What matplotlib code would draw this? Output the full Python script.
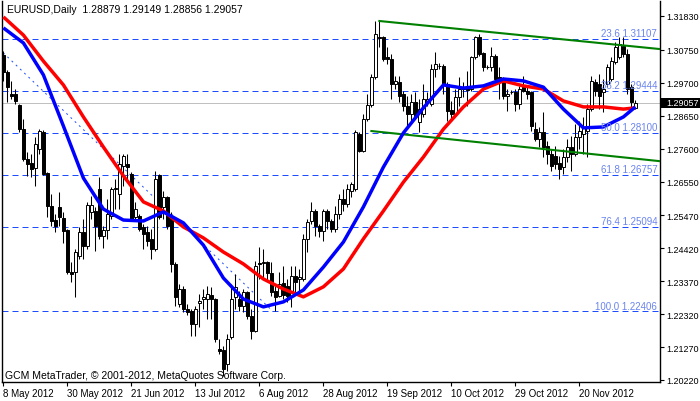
import matplotlib
matplotlib.use("Agg")
import matplotlib.pyplot as plt
from matplotlib.patches import Rectangle
import numpy as np

# EURUSD daily bars, 8 May 2012 .. 10 Dec 2012
opens = [1.3059, 1.3004, 1.2934, 1.2934, 1.2899, 1.2822, 1.2727, 1.2714, 1.2698, 1.2759,
         1.2813, 1.2682, 1.2577, 1.2532, 1.2574, 1.2539, 1.2500, 1.2366, 1.2366, 1.2417,
         1.2494, 1.2449, 1.2558, 1.2561, 1.2631, 1.2481, 1.2500, 1.2545, 1.2631, 1.2615,
         1.2704, 1.2711, 1.2679, 1.2542, 1.2545, 1.2510, 1.2494, 1.2472, 1.2440, 1.2676,
         1.2574, 1.2606, 1.2545, 1.2392, 1.2264, 1.2312, 1.2248, 1.2242, 1.2201, 1.2267,
         1.2280, 1.2280, 1.2293, 1.2280, 1.2121, 1.2117, 1.2073, 1.2159, 1.2287, 1.2280,
         1.2258, 1.2303, 1.2226, 1.2178, 1.2395, 1.2395, 1.2398, 1.2363, 1.2306, 1.2290,
         1.2331, 1.2322, 1.2290, 1.2354, 1.2344, 1.2344, 1.2472, 1.2529, 1.2561, 1.2513,
         1.2497, 1.2561, 1.2529, 1.2504, 1.2551, 1.2599, 1.2583, 1.2625, 1.2631, 1.2807,
         1.2752, 1.2854, 1.2899, 1.2988, 1.3116, 1.3116, 1.3052, 1.3046, 1.2966, 1.2972,
         1.2934, 1.2896, 1.2870, 1.2909, 1.2845, 1.2870, 1.2912, 1.2902, 1.3014, 1.3023,
         1.3023, 1.2966, 1.2883, 1.2870, 1.2925, 1.2956, 1.2956, 1.2950, 1.3052, 1.3116,
         1.3065, 1.3020, 1.3020, 1.3055, 1.2988, 1.2972, 1.2928, 1.2941, 1.2941, 1.2902,
         1.2956, 1.2944, 1.2941, 1.2822, 1.2791, 1.2813, 1.2768, 1.2743, 1.2736, 1.2714,
         1.2701, 1.2733, 1.2765, 1.2743, 1.2797, 1.2807, 1.2816, 1.2886, 1.2972, 1.2966,
         1.2941, 1.2966, 1.2982, 1.3036, 1.3052, 1.3087, 1.3062, 1.2956, 1.28879]
highs = [1.3071, 1.3011, 1.2976, 1.2950, 1.2902, 1.2854, 1.2749, 1.2743, 1.2797, 1.2822,
         1.2819, 1.2685, 1.2615, 1.2551, 1.2622, 1.2558, 1.2504, 1.2398, 1.2440, 1.2510,
         1.2535, 1.2590, 1.2609, 1.2574, 1.2669, 1.2513, 1.2599, 1.2637, 1.2663, 1.2743,
         1.2743, 1.2743, 1.2685, 1.2590, 1.2551, 1.2519, 1.2513, 1.2504, 1.2688, 1.2679,
         1.2625, 1.2609, 1.2558, 1.2398, 1.2328, 1.2322, 1.2264, 1.2248, 1.2258, 1.2296,
         1.2312, 1.2322, 1.2319, 1.2284, 1.2153, 1.2130, 1.2168, 1.2328, 1.2360, 1.2306,
         1.2312, 1.2306, 1.2248, 1.2401, 1.2446, 1.2440, 1.2401, 1.2398, 1.2322, 1.2366,
         1.2385, 1.2344, 1.2385, 1.2385, 1.2376, 1.2488, 1.2535, 1.2590, 1.2567, 1.2519,
         1.2567, 1.2567, 1.2535, 1.2577, 1.2615, 1.2631, 1.2647, 1.2653, 1.2819, 1.2813,
         1.2870, 1.2934, 1.2998, 1.3167, 1.3167, 1.3119, 1.3084, 1.3062, 1.2992, 1.2992,
         1.2944, 1.2928, 1.2934, 1.2941, 1.2918, 1.2966, 1.2941, 1.3030, 1.3068, 1.3033,
         1.3030, 1.2972, 1.2912, 1.2950, 1.2988, 1.2972, 1.3008, 1.3055, 1.3119, 1.3126,
         1.3068, 1.3027, 1.3084, 1.3062, 1.3020, 1.2988, 1.2950, 1.2947, 1.2950, 1.2960,
         1.2992, 1.2960, 1.2944, 1.2845, 1.2829, 1.2877, 1.2784, 1.2759, 1.2768, 1.2736,
         1.2759, 1.2791, 1.2800, 1.2838, 1.2848, 1.2861, 1.2902, 1.2992, 1.2982, 1.2998,
         1.2982, 1.3030, 1.3052, 1.3100, 1.3116, 1.3116, 1.3078, 1.2966, 1.29149]
lows = [1.2976, 1.2909, 1.2918, 1.2902, 1.2813, 1.2720, 1.2673, 1.2669, 1.2641, 1.2743,
        1.2676, 1.2542, 1.2513, 1.2494, 1.2513, 1.2459, 1.2360, 1.2334, 1.2287, 1.2408,
        1.2408, 1.2440, 1.2535, 1.2433, 1.2472, 1.2443, 1.2472, 1.2535, 1.2567, 1.2567,
        1.2641, 1.2663, 1.2529, 1.2529, 1.2497, 1.2440, 1.2449, 1.2408, 1.2433, 1.2535,
        1.2535, 1.2504, 1.2366, 1.2258, 1.2255, 1.2239, 1.2229, 1.2162, 1.2162, 1.2191,
        1.2248, 1.2216, 1.2216, 1.2143, 1.2105, 1.2035, 1.2051, 1.2153, 1.2248, 1.2242,
        1.2239, 1.2216, 1.2153, 1.2175, 1.2344, 1.2344, 1.2338, 1.2290, 1.2242, 1.2287,
        1.2280, 1.2271, 1.2255, 1.2303, 1.2290, 1.2338, 1.2430, 1.2519, 1.2481, 1.2478,
        1.2465, 1.2504, 1.2494, 1.2494, 1.2535, 1.2561, 1.2574, 1.2606, 1.2625, 1.2749,
        1.2749, 1.2848, 1.2893, 1.2982, 1.3084, 1.3039, 1.3030, 1.2918, 1.2950, 1.2909,
        1.2880, 1.2829, 1.2838, 1.2858, 1.2813, 1.2861, 1.2896, 1.2896, 1.2988, 1.3014,
        1.2934, 1.2848, 1.2848, 1.2864, 1.2896, 1.2925, 1.2896, 1.2944, 1.3046, 1.3055,
        1.3008, 1.3014, 1.3008, 1.2972, 1.2918, 1.2918, 1.2880, 1.2934, 1.2880, 1.2886,
        1.2941, 1.2918, 1.2816, 1.2784, 1.2765, 1.2733, 1.2711, 1.2688, 1.2695, 1.2663,
        1.2679, 1.2717, 1.2688, 1.2736, 1.2759, 1.2743, 1.2733, 1.2880, 1.2928, 1.2886,
        1.2877, 1.2956, 1.2976, 1.3030, 1.3046, 1.3052, 1.2934, 1.2893, 1.28856]
closes = [1.3004, 1.2956, 1.2928, 1.2912, 1.2822, 1.2727, 1.2711, 1.2695, 1.2775, 1.2816,
          1.2679, 1.2577, 1.2529, 1.2513, 1.2542, 1.2497, 1.2366, 1.2360, 1.2430, 1.2494,
          1.2449, 1.2580, 1.2580, 1.2513, 1.2481, 1.2500, 1.2551, 1.2631, 1.2634, 1.2711,
          1.2736, 1.2701, 1.2535, 1.2567, 1.2504, 1.2488, 1.2465, 1.2440, 1.2663, 1.2542,
          1.2606, 1.2513, 1.2392, 1.2287, 1.2312, 1.2248, 1.2239, 1.2201, 1.2248, 1.2274,
          1.2287, 1.2296, 1.2280, 1.2153, 1.2114, 1.2057, 1.2153, 1.2280, 1.2319, 1.2258,
          1.2303, 1.2226, 1.2178, 1.2385, 1.2392, 1.2398, 1.2363, 1.2303, 1.2287, 1.2328,
          1.2293, 1.2290, 1.2354, 1.2334, 1.2350, 1.2472, 1.2526, 1.2561, 1.2513, 1.2497,
          1.2561, 1.2529, 1.2504, 1.2551, 1.2599, 1.2583, 1.2631, 1.2647, 1.2813, 1.2752,
          1.2854, 1.2899, 1.2988, 1.3126, 1.3113, 1.3046, 1.3046, 1.2966, 1.2976, 1.2928,
          1.2896, 1.2870, 1.2909, 1.2864, 1.2886, 1.2918, 1.2918, 1.3014, 1.3030, 1.3023,
          1.2966, 1.2880, 1.2870, 1.2925, 1.2950, 1.2950, 1.2947, 1.3052, 1.3116, 1.3062,
          1.3020, 1.3020, 1.3055, 1.2982, 1.2972, 1.2928, 1.2934, 1.2941, 1.2902, 1.2950,
          1.2944, 1.2934, 1.2832, 1.2791, 1.2813, 1.2765, 1.2743, 1.2704, 1.2711, 1.2695,
          1.2733, 1.2765, 1.2743, 1.2797, 1.2816, 1.2829, 1.2886, 1.2976, 1.2944, 1.2928,
          1.2950, 1.3020, 1.3039, 1.3084, 1.3094, 1.3062, 1.2950, 1.2909, 1.29057]

# moving averages sampled every 5 bars (plus the last bar)
ma_bars = [0, 5, 10, 15, 20, 25, 30, 35, 40, 45, 50, 55, 60, 65, 70, 75,
           80, 85, 90, 95, 100, 105, 110, 115, 120, 125, 130, 135, 140, 145, 150, 155, 158]
fast_ma = [1.3145, 1.3097, 1.2995, 1.2832, 1.2666, 1.2567, 1.2532, 1.2529, 1.2558, 1.2523,
           1.2452, 1.2347, 1.2280, 1.2255, 1.2271, 1.2309, 1.2382, 1.2462, 1.2574, 1.2701,
           1.2810, 1.2890, 1.2963, 1.2953, 1.2960, 1.2982, 1.2976, 1.2956, 1.2886, 1.2826,
           1.2829, 1.2861, 1.2893]
slow_ma = [1.3180, 1.3122, 1.3039, 1.2963, 1.2861, 1.2765, 1.2673, 1.2590, 1.2561, 1.2510,
           1.2475, 1.2430, 1.2392, 1.2344, 1.2312, 1.2287, 1.2319, 1.2376, 1.2472, 1.2561,
           1.2653, 1.2733, 1.2822, 1.2893, 1.2950, 1.2976, 1.2960, 1.2950, 1.2912, 1.2893,
           1.2893, 1.2886, 1.2890]

fib_levels = ["23.6", "38.2", "50.0", "61.8", "76.4", "100.0"]
fib_prices = [1.31107, 1.29444, 1.28100, 1.26757, 1.25094, 1.22406]
fib_base_x = [-25.7, 67.4]
fib_base_y = [1.33794, 1.22406]

upper_x = [94, 170]
upper_y = [1.3167, 1.3070]
lower_x = [92, 170]
lower_y = [1.2816, 1.2712]

price_ticks = [1.31830, 1.30750, 1.29700, 1.28650, 1.27600, 1.26550,
               1.25470, 1.24420, 1.23370, 1.22320, 1.21270, 1.20220]
date_ticks = [0, 16, 32, 48, 64, 80, 96, 112, 128, 144]
date_labels = ["8 May 2012", "30 May 2012", "21 Jun 2012", "13 Jul 2012", "6 Aug 2012",
               "28 Aug 2012", "19 Sep 2012", "10 Oct 2012", "29 Oct 2012", "20 Nov 2012"]
last_price = 1.29057
header = "EURUSD,Daily  1.28879 1.29149 1.28856 1.29057"
footer = "GCM MetaTrader, \u00a9 2001-2012, MetaQuotes Software Corp."

plt.rcParams['font.family'] = ['Liberation Sans', 'DejaVu Sans']
plt.rcParams['font.size'] = 7

W, H = 700, 402
fig = plt.figure(figsize=(W / 100, H / 100), dpi=100)
ax = fig.add_axes([2 / W, 19 / H, 658 / W, 381 / H])

o = np.array(opens)
h = np.array(highs)
l = np.array(lows)
c = np.array(closes)
x = np.arange(len(c))

# fibonacci levels and base line
for lvl, p in zip(fib_levels, fib_prices):
    ax.axhline(p, color='#1e4cff', lw=0.72, ls=(0, (6, 4)), snap=True, zorder=1)
    ax.annotate(f"{lvl} {p:.5f}", xy=(1, p), xycoords=('axes fraction', 'data'),
                xytext=(-2, 0.5), textcoords='offset points', ha='right', va='bottom',
                color='#6a84ee', fontsize=7, zorder=6)
ax.plot(fib_base_x, fib_base_y, color='#1e4cff', lw=0.7, ls=(0, (2, 4)), zorder=1)

# current price line
ax.axhline(last_price, color='#c0c0c0', lw=0.72, snap=True, zorder=1)

# candles
ax.vlines(x, l, h, color='black', lw=0.75, zorder=2)
up = c >= o
body = np.maximum(np.abs(c - o), 0.00004)
ax.bar(x, body, width=0.6, bottom=np.minimum(o, c), color=np.where(up, 'white', 'black'),
       edgecolor='black', linewidth=0.7, zorder=3)

# moving averages
ax.plot(ma_bars, slow_ma, color='#ff0000', lw=2.5, solid_capstyle='butt', zorder=4)
ax.plot(ma_bars, fast_ma, color='#0000ff', lw=2.5, solid_capstyle='butt', zorder=5)

# channel
ax.plot(upper_x, upper_y, color='#008000', lw=1.5, zorder=4)
ax.plot(lower_x, lower_y, color='#008000', lw=1.5, zorder=4)

ax.set_xlim(-0.35, -0.35 + 658 / 4)
ax.set_ylim(1.20154, 1.32308)

ax.yaxis.tick_right()
ax.set_yticks(price_ticks)
ax.set_yticklabels([f"{p:.5f}" for p in price_ticks])
ax.set_xticks(date_ticks)
ax.set_xticklabels(date_labels, ha='left')
ax.tick_params(axis='both', length=3, width=0.8, color='black', labelsize=7)
ax.tick_params(axis='y', pad=1.5, labelsize=6.5)
ax.tick_params(axis='x', pad=1.5)

for side in ['left', 'right', 'bottom']:
    ax.spines[side].set_linewidth(1.0)
ax.spines['top'].set_visible(False)

# last price marker on the axis
y_disp = ax.transData.transform((0, last_price))[1]
y_fig = fig.transFigure.inverted().transform((0, y_disp))[1]
fig.patches.append(Rectangle((661 / W, y_fig - 5 / H), 39 / W, 10 / H, transform=fig.transFigure,
                             facecolor='black', edgecolor='none', zorder=7))
fig.text(666 / W, y_fig, f"{last_price:.5f}", ha='left', va='center', color='white',
         fontsize=6.5, zorder=8)

fig.text(7 / W, 1 - 10 / H, header, ha='left', va='center', fontsize=7.5, color='black')
fig.text(5 / W, 1 - 376 / H, footer, ha='left', va='center', fontsize=7.5, color='black')

fig.savefig('out.png', dpi=100)
